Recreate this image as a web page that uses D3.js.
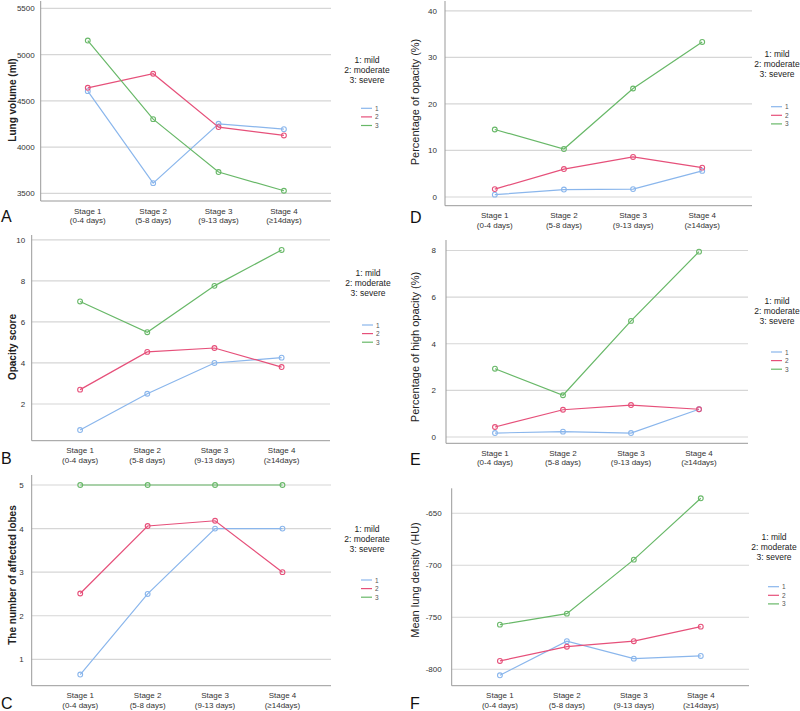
<!DOCTYPE html>
<html>
<head>
<meta charset="utf-8">
<script src="https://cdn.jsdelivr.net/npm/d3@7"></script>
<style>
body{margin:0;background:#fff}
svg{display:block;font-family:"Liberation Sans",Arial,sans-serif}
</style>
</head>
<body>
<svg id="map" width="800" height="711"></svg>
<script>
var stages = ['Stage 1|(0-4 days)', 'Stage 2|(5-8 days)', 'Stage 3|(9-13 days)', 'Stage 4|(\u226514days)']
var groups = ['1', '2', '3']
var legendText = ['1: mild', '2: moderate', '3: severe']
var colors = ['#8ab6ec', '#e6507a', '#68b868']

// A lung volume
var volMild = [4605, 3610, 4252, 4194]
var volModerate = [4641, 4793, 4216, 4126]
var volSevere = [5152, 4302, 3730, 3528]
var volTicks = [3500, 4000, 4500, 5000, 5500]

// B opacity score
var scoreMild = [0.73, 2.5, 4.0, 4.26]
var scoreModerate = [2.7, 4.54, 4.73, 3.8]
var scoreSevere = [7.0, 5.5, 7.76, 9.51]
var scoreTicks = [2, 4, 6, 8, 10]

// C affected lobes
var lobesMild = [0.65, 2.5, 4.0, 4.0]
var lobesModerate = [2.51, 4.06, 4.18, 3.0]
var lobesSevere = [5, 5, 5, 5]
var lobesTicks = [1, 2, 3, 4, 5]

// D percentage of opacity
var pctMild = [0.5, 1.6, 1.7, 5.6]
var pctModerate = [1.7, 6.0, 8.6, 6.3]
var pctSevere = [14.5, 10.3, 23.3, 33.3]
var pctTicks = [0, 10, 20, 30, 40]

// E percentage of high opacity
var highMild = [0.17, 0.23, 0.17, 1.19]
var highModerate = [0.43, 1.17, 1.37, 1.19]
var highSevere = [2.93, 1.79, 4.98, 7.95]
var highTicks = [0, 2, 4, 6, 8]

// F mean lung density
var densMild = [-805.8, -773, -789.8, -787.2]
var densModerate = [-792, -778.3, -773, -759]
var densSevere = [-757.1, -746.5, -694.6, -635.6]
var densTicks = [-800, -750, -700, -650]

var map = d3.select('svg#map')

function panel(o){
	var x = d3.scalePoint().domain(stages).range([o.x0, o.x1]).padding(0.72)
	var y = d3.scaleLinear().domain(o.domain).range([o.y1, o.y0])
	var g = map.append('g')

	g.selectAll('line.grid')
	.data(o.ticks)
	.enter()
	.append('line')
	.attr('x1', o.x0).attr('x2', o.x1)
	.attr('y1', d => y(d)).attr('y2', d => y(d))
	.attr('stroke', '#d6d6d6').attr('stroke-width', 1.2)

	g.selectAll('text.ytick')
	.data(o.ticks)
	.enter()
	.append('text')
	.attr('x', o.x0 - o.gap).attr('y', d => y(d) + 3)
	.attr('text-anchor', 'end')
	.attr('font-size', 8).attr('fill', '#333')
	.text(d => d)

	g.append('line').attr('x1', o.x0).attr('x2', o.x0).attr('y1', o.y0).attr('y2', o.y1)
	.attr('stroke', '#999').attr('stroke-width', 1)
	g.append('line').attr('x1', o.x0).attr('x2', o.x1).attr('y1', o.y1).attr('y2', o.y1)
	.attr('stroke', '#999').attr('stroke-width', 1)

	var xl = g.selectAll('text.xtick')
	.data(stages)
	.enter()
	.append('text')
	.attr('text-anchor', 'middle')
	.attr('font-size', 8).attr('fill', '#333')
	xl.append('tspan').attr('x', d => x(d)).attr('y', o.y1 + 12.5).text(d => d.split('|')[0])
	xl.append('tspan').attr('x', d => x(d)).attr('y', o.y1 + 22).text(d => d.split('|')[1])

	var line = d3.line().x((d, i) => x(stages[i])).y(d => y(d))
	o.series.forEach(function(s, k){
		g.append('path').attr('d', line(s))
		.attr('fill', 'none').attr('stroke', colors[k]).attr('stroke-width', 1.2)
		g.selectAll('circle.s' + k)
		.data(s)
		.enter()
		.append('circle')
		.attr('cx', (d, i) => x(stages[i])).attr('cy', d => y(d))
		.attr('r', 2.4)
		.attr('fill', 'none').attr('stroke', colors[k]).attr('stroke-width', 1.1)
	})

	g.append('text')
	.attr('transform', 'translate(' + o.tx + ',' + o.ty + ') rotate(-90)')
	.attr('text-anchor', 'middle').attr('dy', '0.35em')
	.attr('font-size', o.bold ? 10 : 11).attr('font-weight', o.bold ? 'bold' : 'normal')
	.attr('fill', '#222')
	.text(o.title)

	g.append('text').attr('x', o.lx).attr('y', o.ly).attr('font-size', 16).attr('fill', '#111').text(o.letter)

	g.selectAll('text.leg')
	.data(legendText)
	.enter()
	.append('text')
	.attr('x', o.kx).attr('y', (d, i) => o.ky + i * 10 + 3)
	.attr('text-anchor', 'middle').attr('font-size', 8.5).attr('fill', '#222')
	.text(d => d)

	groups.forEach(function(d, i){
		var yy = o.ky + o.kd + i * 8.6
		g.append('line').attr('x1', o.kx - 6).attr('x2', o.kx + 5).attr('y1', yy).attr('y2', yy)
		.attr('stroke', colors[i]).attr('stroke-width', 1.2)
		g.append('text').attr('x', o.kx + 8).attr('y', yy + 2.5)
		.attr('font-size', 6.5).attr('fill', '#555').text(d)
	})
}

panel({x0: 40.7, x1: 331, y0: 1, y1: 201, domain: [3417, 5580], ticks: volTicks, gap: 6,
	series: [volMild, volModerate, volSevere], title: 'Lung volume (ml)', bold: true, tx: 12, ty: 100,
	letter: 'A', lx: 1, ly: 222, kx: 367, ky: 60, kd: 48.3})
panel({x0: 31.7, x1: 330, y0: 235, y1: 440.7, domain: [0.21, 10.24], ticks: scoreTicks, gap: 6.5,
	series: [scoreMild, scoreModerate, scoreSevere], title: 'Opacity score', bold: true, tx: 12, ty: 347,
	letter: 'B', lx: 1, ly: 464, kx: 368, ky: 273.3, kd: 51.7})
panel({x0: 31.7, x1: 331, y0: 475, y1: 685.7, domain: [0.394, 5.23], ticks: lobesTicks, gap: 8,
	series: [lobesMild, lobesModerate, lobesSevere], title: 'The number of affected lobes', bold: true, tx: 12, ty: 575,
	letter: 'C', lx: 1, ly: 709, kx: 367, ky: 528.7, kd: 51.3})
panel({x0: 445, x1: 752, y0: 1, y1: 205.7, domain: [-1.87, 42.1], ticks: pctTicks, gap: 8,
	series: [pctMild, pctModerate, pctSevere], title: 'Percentage of opacity (%)', bold: false, tx: 415, ty: 102,
	letter: 'D', lx: 410, ly: 223, kx: 777, ky: 54.3, kd: 52.4})
panel({x0: 446, x1: 748, y0: 240, y1: 443.3, domain: [-0.27, 8.45], ticks: highTicks, gap: 10,
	series: [highMild, highModerate, highSevere], title: 'Percentage of high opacity (%)', bold: false, tx: 415, ty: 347,
	letter: 'E', lx: 410, ly: 465, kx: 777, ky: 300.7, kd: 51.3})
panel({x0: 451.7, x1: 749, y0: 488.3, y1: 685.7, domain: [-815.8, -626.0], ticks: densTicks, gap: 10,
	series: [densMild, densModerate, densSevere], title: 'Mean lung density (HU)', bold: false, tx: 415, ty: 580,
	letter: 'F', lx: 410, ly: 709, kx: 774, ky: 537.3, kd: 49.4})
</script>
</body>
</html>
